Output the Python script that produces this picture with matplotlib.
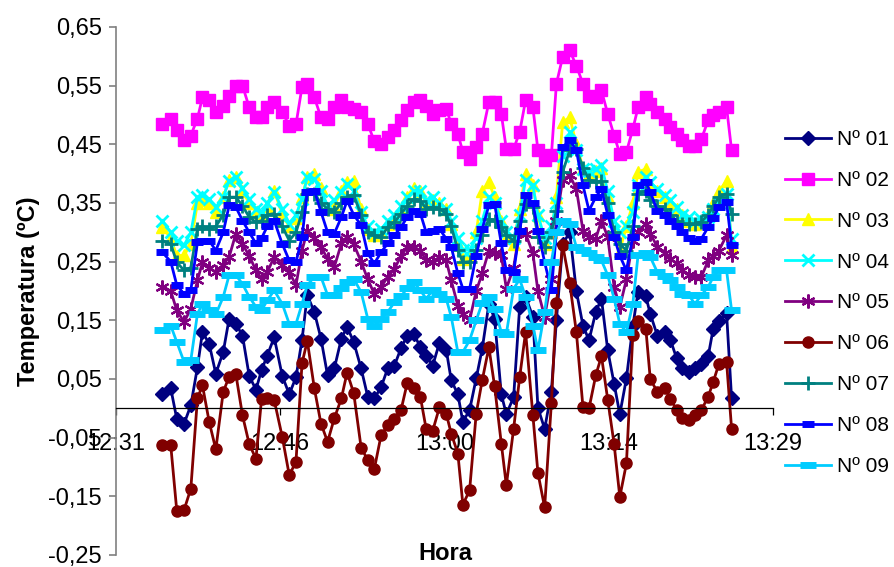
import matplotlib.pyplot as plt
from matplotlib.ticker import FixedLocator, FuncFormatter

plt.rcParams['font.family'] = ['Liberation Sans', 'DejaVu Sans']

# sample times, minutes after 12:00
t_min = [35.75, 36.48, 37.01, 37.65, 38.24, 38.82, 39.26, 39.85, 40.43, 41.08,
         41.60, 42.19, 42.77, 43.36, 43.95, 44.44, 44.94, 45.55, 46.26, 46.87,
         47.46, 47.99, 48.45, 49.07, 49.65, 50.23, 50.82, 51.44, 51.94, 52.52,
         53.17, 53.75, 54.33, 54.92, 55.50, 56.09, 56.68, 57.21, 57.79, 58.37,
         58.87, 59.45, 60.04, 60.63, 61.07, 61.65, 62.09, 62.68, 63.26, 63.79,
         64.37, 64.87, 65.46, 65.90, 66.54, 67.07, 67.59, 68.23, 68.67, 69.26,
         69.85, 70.29, 70.84, 71.46, 72.04, 72.62, 73.15, 73.74, 74.24, 74.79,
         75.35, 75.85, 76.43, 76.99, 77.45, 78.13, 78.52, 79.14, 79.80, 80.28,
         80.82, 81.33, 81.90, 82.43, 83.00, 83.60, 84.04, 84.54, 85.21, 85.65]

n01 = [0.024, 0.034, -0.018, -0.026, 0.005, 0.070, 0.130, 0.110, 0.059, 0.096,
       0.153, 0.144, 0.124, 0.055, 0.032, 0.065, 0.090, 0.121, 0.055, 0.024,
       0.053, 0.117, 0.193, 0.164, 0.119, 0.056, 0.068, 0.119, 0.139, 0.113,
       0.068, 0.020, 0.017, 0.036, 0.068, 0.073, 0.103, 0.124, 0.127, 0.104,
       0.089, 0.073, 0.112, 0.100, 0.048, 0.024, -0.023, -0.003, 0.051, 0.102,
       0.178, 0.153, 0.024, -0.010, 0.019, 0.173, 0.190, 0.156, 0.001, -0.035,
       0.028, 0.150, 0.280, 0.300, 0.200, 0.141, 0.116, 0.164, 0.187, 0.099,
       0.042, -0.010, 0.051, 0.140, 0.199, 0.191, 0.161, 0.124, 0.130, 0.117,
       0.086, 0.069, 0.062, 0.069, 0.075, 0.089, 0.136, 0.149, 0.162, 0.017]

n02 = [0.485, 0.494, 0.474, 0.457, 0.465, 0.494, 0.530, 0.525, 0.505, 0.516,
       0.533, 0.549, 0.550, 0.513, 0.497, 0.496, 0.514, 0.522, 0.505, 0.482,
       0.484, 0.548, 0.553, 0.530, 0.496, 0.494, 0.513, 0.525, 0.513, 0.510,
       0.505, 0.485, 0.455, 0.451, 0.462, 0.474, 0.491, 0.508, 0.522, 0.525,
       0.516, 0.502, 0.508, 0.511, 0.485, 0.468, 0.437, 0.425, 0.445, 0.468,
       0.522, 0.522, 0.502, 0.442, 0.442, 0.471, 0.525, 0.513, 0.440, 0.423,
       0.431, 0.553, 0.599, 0.610, 0.584, 0.553, 0.533, 0.530, 0.542, 0.502,
       0.465, 0.434, 0.437, 0.476, 0.513, 0.530, 0.519, 0.505, 0.494, 0.479,
       0.468, 0.457, 0.448, 0.448, 0.459, 0.491, 0.500, 0.505, 0.513, 0.440]

n03 = [0.309, 0.290, 0.260, 0.261, 0.280, 0.350, 0.355, 0.350, 0.335, 0.360,
       0.390, 0.394, 0.370, 0.350, 0.335, 0.330, 0.345, 0.371, 0.330, 0.310,
       0.325, 0.360, 0.394, 0.400, 0.375, 0.340, 0.345, 0.370, 0.385, 0.388,
       0.340, 0.305, 0.295, 0.300, 0.315, 0.325, 0.340, 0.360, 0.375, 0.370,
       0.350, 0.355, 0.350, 0.340, 0.315, 0.280, 0.255, 0.260, 0.300, 0.370,
       0.385, 0.360, 0.320, 0.290, 0.280, 0.340, 0.400, 0.380, 0.330, 0.280,
       0.300, 0.360, 0.488, 0.496, 0.450, 0.410, 0.400, 0.405, 0.410, 0.360,
       0.300, 0.269, 0.310, 0.350, 0.403, 0.408, 0.380, 0.370, 0.360, 0.350,
       0.340, 0.330, 0.320, 0.315, 0.320, 0.330, 0.350, 0.370, 0.388, 0.275]

n04 = [0.320, 0.300, 0.285, 0.278, 0.300, 0.360, 0.363, 0.357, 0.343, 0.360,
       0.388, 0.394, 0.375, 0.357, 0.340, 0.334, 0.350, 0.368, 0.340, 0.315,
       0.330, 0.357, 0.394, 0.391, 0.370, 0.346, 0.355, 0.368, 0.383, 0.370,
       0.335, 0.310, 0.300, 0.305, 0.320, 0.330, 0.345, 0.360, 0.370, 0.370,
       0.355, 0.360, 0.350, 0.340, 0.320, 0.290, 0.270, 0.270, 0.290, 0.320,
       0.360, 0.350, 0.320, 0.300, 0.290, 0.330, 0.390, 0.380, 0.330, 0.290,
       0.310, 0.350, 0.430, 0.471, 0.440, 0.408, 0.405, 0.408, 0.414, 0.370,
       0.320, 0.300, 0.310, 0.334, 0.380, 0.394, 0.385, 0.374, 0.363, 0.355,
       0.343, 0.330, 0.326, 0.320, 0.322, 0.326, 0.340, 0.350, 0.366, 0.289]

n05 = [0.207, 0.200, 0.167, 0.147, 0.170, 0.218, 0.249, 0.240, 0.232, 0.245,
       0.258, 0.298, 0.280, 0.260, 0.235, 0.221, 0.232, 0.258, 0.245, 0.232,
       0.210, 0.269, 0.303, 0.290, 0.275, 0.255, 0.241, 0.281, 0.292, 0.280,
       0.250, 0.220, 0.195, 0.207, 0.224, 0.238, 0.260, 0.275, 0.275, 0.269,
       0.252, 0.249, 0.258, 0.252, 0.218, 0.175, 0.161, 0.150, 0.200, 0.230,
       0.269, 0.265, 0.261, 0.204, 0.240, 0.303, 0.298, 0.264, 0.200, 0.156,
       0.220, 0.320, 0.390, 0.397, 0.374, 0.303, 0.292, 0.289, 0.320, 0.292,
       0.207, 0.173, 0.220, 0.286, 0.300, 0.315, 0.298, 0.275, 0.264, 0.255,
       0.247, 0.235, 0.227, 0.224, 0.224, 0.252, 0.260, 0.269, 0.295, 0.261]

n06 = [-0.063, -0.063, -0.175, -0.173, -0.137, 0.017, 0.039, -0.023, -0.070, 0.028,
       0.054, 0.058, -0.012, -0.061, -0.086, 0.016, 0.018, 0.014, -0.049, -0.114,
       -0.091, 0.077, 0.115, 0.034, -0.026, -0.057, -0.017, 0.017, 0.061, 0.026,
       -0.067, -0.088, -0.103, -0.046, -0.029, -0.018, -0.002, 0.043, 0.034, 0.019,
       -0.035, -0.038, 0.002, -0.009, -0.043, -0.077, -0.164, -0.140, -0.009, 0.048,
       0.104, 0.038, -0.060, -0.131, -0.035, 0.053, 0.130, -0.012, -0.110, -0.169,
       0.009, 0.179, 0.278, 0.213, 0.130, 0.002, 0.000, 0.056, 0.089, 0.015,
       -0.061, -0.151, -0.094, 0.125, 0.149, 0.136, 0.050, 0.028, 0.035, 0.016,
       -0.002, -0.017, -0.020, -0.012, -0.003, 0.020, 0.045, 0.076, 0.079, -0.035]

n07 = [0.286, 0.280, 0.249, 0.235, 0.240, 0.306, 0.310, 0.306, 0.310, 0.330,
       0.360, 0.360, 0.345, 0.326, 0.317, 0.320, 0.330, 0.332, 0.310, 0.286,
       0.300, 0.334, 0.366, 0.366, 0.350, 0.340, 0.335, 0.350, 0.360, 0.363,
       0.330, 0.300, 0.295, 0.292, 0.309, 0.317, 0.332, 0.345, 0.357, 0.354,
       0.340, 0.343, 0.340, 0.332, 0.310, 0.270, 0.249, 0.250, 0.270, 0.295,
       0.323, 0.320, 0.309, 0.295, 0.286, 0.320, 0.349, 0.343, 0.292, 0.275,
       0.300, 0.337, 0.403, 0.440, 0.442, 0.410, 0.390, 0.385, 0.388, 0.350,
       0.300, 0.280, 0.269, 0.310, 0.366, 0.370, 0.355, 0.345, 0.340, 0.330,
       0.320, 0.315, 0.315, 0.315, 0.318, 0.330, 0.345, 0.360, 0.366, 0.332]

n08 = [0.266, 0.250, 0.210, 0.195, 0.201, 0.283, 0.286, 0.286, 0.269, 0.300,
       0.346, 0.343, 0.320, 0.300, 0.281, 0.290, 0.310, 0.320, 0.280, 0.252,
       0.249, 0.292, 0.368, 0.371, 0.335, 0.300, 0.298, 0.326, 0.354, 0.330,
       0.312, 0.264, 0.247, 0.266, 0.281, 0.295, 0.309, 0.326, 0.337, 0.332,
       0.300, 0.303, 0.306, 0.289, 0.275, 0.230, 0.204, 0.204, 0.260, 0.306,
       0.346, 0.349, 0.281, 0.235, 0.232, 0.303, 0.363, 0.350, 0.303, 0.249,
       0.201, 0.300, 0.445, 0.457, 0.440, 0.380, 0.337, 0.360, 0.374, 0.330,
       0.292, 0.260, 0.235, 0.292, 0.380, 0.386, 0.369, 0.337, 0.330, 0.320,
       0.310, 0.300, 0.290, 0.286, 0.289, 0.309, 0.325, 0.343, 0.351, 0.278]

n09 = [0.133, 0.141, 0.113, 0.079, 0.082, 0.161, 0.178, 0.167, 0.160, 0.190,
       0.227, 0.227, 0.212, 0.190, 0.173, 0.167, 0.184, 0.201, 0.178, 0.144,
       0.144, 0.178, 0.210, 0.224, 0.224, 0.193, 0.193, 0.205, 0.215, 0.221,
       0.198, 0.153, 0.140, 0.153, 0.164, 0.181, 0.191, 0.205, 0.215, 0.201,
       0.187, 0.201, 0.195, 0.187, 0.156, 0.096, 0.096, 0.116, 0.150, 0.180,
       0.190, 0.170, 0.130, 0.127, 0.204, 0.220, 0.190, 0.141, 0.099, 0.164,
       0.250, 0.300, 0.320, 0.315, 0.275, 0.270, 0.264, 0.258, 0.252, 0.227,
       0.187, 0.144, 0.130, 0.178, 0.261, 0.264, 0.258, 0.232, 0.225, 0.218,
       0.207, 0.195, 0.193, 0.178, 0.193, 0.207, 0.224, 0.235, 0.235, 0.167]

labels = ['Nº 01', 'Nº 02', 'Nº 03', 'Nº 04', 'Nº 05', 'Nº 06', 'Nº 07', 'Nº 08', 'Nº 09']
series = [n01, n02, n03, n04, n05, n06, n07, n08, n09]

# (color, marker, markersize, marker edge width)
styles = [('#000080', 'D', 7, 1),
          ('#FF00FF', 's', 8, 1),
          ('#FFFF00', '^', 8.5, 1),
          ('#00FFFF', 'x', 9, 2),
          ('#800080', (6, 2, 0), 10, 1.6),
          ('#800000', 'o', 8, 1),
          ('#008080', '+', 10, 2),
          ('#0000FF', '_', 8, 5),
          ('#00CCFF', '_', 11, 5)]

# x axis: Excel auto scale in day fractions 0.522 .. 0.562, step 0.01
x_min = 31.68
x_step = 14.4
x_ticks = [x_min + i * x_step for i in range(5)]

fig = plt.figure(figsize=(8.95, 5.67), dpi=100)
ax = fig.add_axes([116 / 895, 1 - 555 / 567, (773 - 116) / 895, (555 - 27) / 567])

for vals, lab, (col, mk, ms, mew) in zip(series, labels, styles):
    ax.plot(t_min, vals, color=col, lw=2, marker=mk, ms=ms, mew=mew,
            mfc=col, mec=col, label=lab)

ax.set_xlim(x_min, x_min + 4 * x_step)
ax.set_ylim(-0.25, 0.65)

ax.xaxis.set_major_locator(FixedLocator(x_ticks))
ax.xaxis.set_major_formatter(FuncFormatter(
    lambda v, p: '%d:%02d' % (12 + int(v + 1e-6) // 60, int(v + 1e-6) % 60)))
ax.yaxis.set_major_locator(FixedLocator([-0.25 + 0.1 * i for i in range(10)]))
ax.yaxis.set_major_formatter(FuncFormatter(lambda v, p: ('%.2f' % v).replace('.', ',')))

ax.spines['top'].set_visible(False)
ax.spines['right'].set_visible(False)
ax.spines['bottom'].set_position(('data', 0))
ax.spines['bottom'].set_color('black')
ax.spines['bottom'].set_linewidth(0.9)
ax.spines['left'].set_color('#808080')
ax.spines['left'].set_linewidth(1.2)

ax.tick_params(axis='y', direction='out', length=5, width=1.2, color='#808080',
               labelsize=17, pad=5)
ax.tick_params(axis='x', direction='out', length=5, width=0.9, color='black',
               labelsize=17, pad=13)

ax.set_ylabel('Temperatura (ºC)', fontsize=17, fontweight='bold', labelpad=6)
fig.text(445 / 895, 1 - 553 / 567, 'Hora', fontsize=17, fontweight='bold',
         ha='center', va='center')

fig.legend(loc='center left', bbox_to_anchor=(785 / 895, 1 - 303 / 567),
           frameon=False, fontsize=15, handlelength=2.2, handletextpad=0.3,
           labelspacing=1.05, borderpad=0, borderaxespad=0)

fig.savefig('out.png', dpi=100)
